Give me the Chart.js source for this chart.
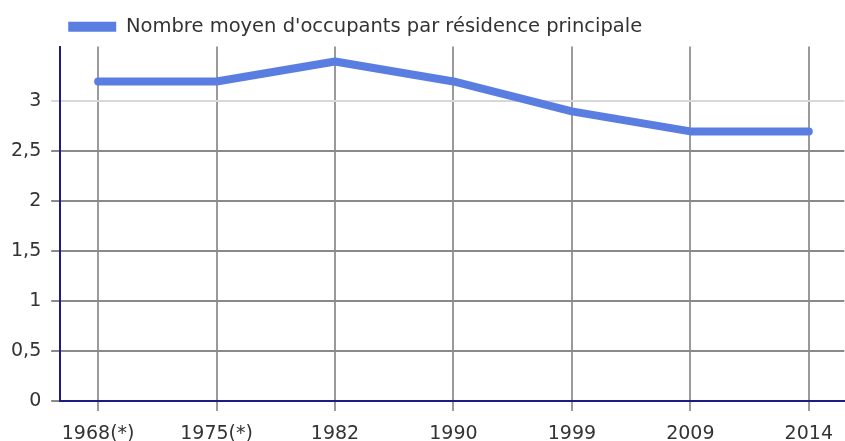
<!DOCTYPE html>
<html lang="fr">
<head>
<meta charset="utf-8">
<script src="https://cdn.jsdelivr.net/npm/chart.js@4/dist/chart.umd.min.js"></script>
<style>
    html, body { margin: 0; padding: 0; background: #fff; }
    #wrap { width: 845px; height: 441px; position: relative; }
</style>
</head>
<body>
<div id="wrap"><canvas id="occChart"></canvas></div>
<script>
// Données
const years = ['1968(*)', '1975(*)', '1982', '1990', '1999', '2009', '2014'];
const occupants = [3.2, 3.2, 3.4, 3.2, 2.9, 2.7, 2.7];
const yTicks = [0, 0.5, 1, 1.5, 2, 2.5, 3];
const seriesLabel = "Nombre moyen d'occupants par résidence principale";

const blue = 'rgb(90, 125, 225)';
const navy = '#1c1c82';
const textColor = '#333';

const ctx = document.getElementById('occChart').getContext('2d');
const occChart = new Chart(ctx, {
    type: 'line',
    data: {
        datasets: [{
            label: seriesLabel,
            data: occupants.map((v, i) => ({ x: i, y: v })),
            borderColor: blue,
            backgroundColor: blue,
            borderWidth: 8,
            borderCapStyle: 'round',
            borderJoinStyle: 'round',
            pointRadius: 0,
            tension: 0
        }]
    },
    options: {
        responsive: true,
        maintainAspectRatio: false,
        animation: false,
        layout: {
            padding: { top: 9, left: 1, right: 0, bottom: 0 }
        },
        plugins: {
            tooltip: { enabled: false },
            legend: {
                position: 'top',
                align: 'start',
                fullSize: false,
                labels: {
                    boxWidth: 48,
                    boxHeight: 10,
                    padding: 8,
                    color: textColor,
                    font: { family: 'DejaVu Sans', size: 19.5 },
                    generateLabels: chart =>
                        Chart.defaults.plugins.legend.labels.generateLabels(chart)
                            .map(l => ({ ...l, lineWidth: 0 }))
                }
            }
        },
        scales: {
            x: {
                type: 'linear',
                min: -0.32,
                max: 6.3,
                afterBuildTicks: axis => {
                    axis.ticks = years.map((_, i) => ({ value: i }));
                },
                // les libellés de l'axe débordent un peu en bas, comme sur l'original
                afterFit: axis => {
                    axis.height = 40;
                },
                ticks: {
                    color: textColor,
                    padding: 12,
                    maxRotation: 0,
                    autoSkip: false,
                    font: { family: 'DejaVu Sans', size: 19 },
                    callback: value => years[value]
                },
                grid: {
                    color: '#9a9a9a',
                    lineWidth: 2,
                    tickLength: 10
                },
                border: { color: navy, width: 2 }
            },
            y: {
                min: 0,
                max: 3.55,
                afterBuildTicks: axis => {
                    axis.ticks = yTicks.map(v => ({ value: v }));
                },
                ticks: {
                    color: textColor,
                    padding: 10,
                    font: { family: 'DejaVu Sans', size: 19 },
                    callback: value => String(value).replace('.', ',')
                },
                grid: {
                    color: c => (c.tick && c.tick.value === 3) ? '#d8d8d8' : '#8a8a8a',
                    lineWidth: 2,
                    tickLength: 9
                },
                border: { color: navy, width: 2 }
            }
        }
    }
});
</script>
</body>
</html>
